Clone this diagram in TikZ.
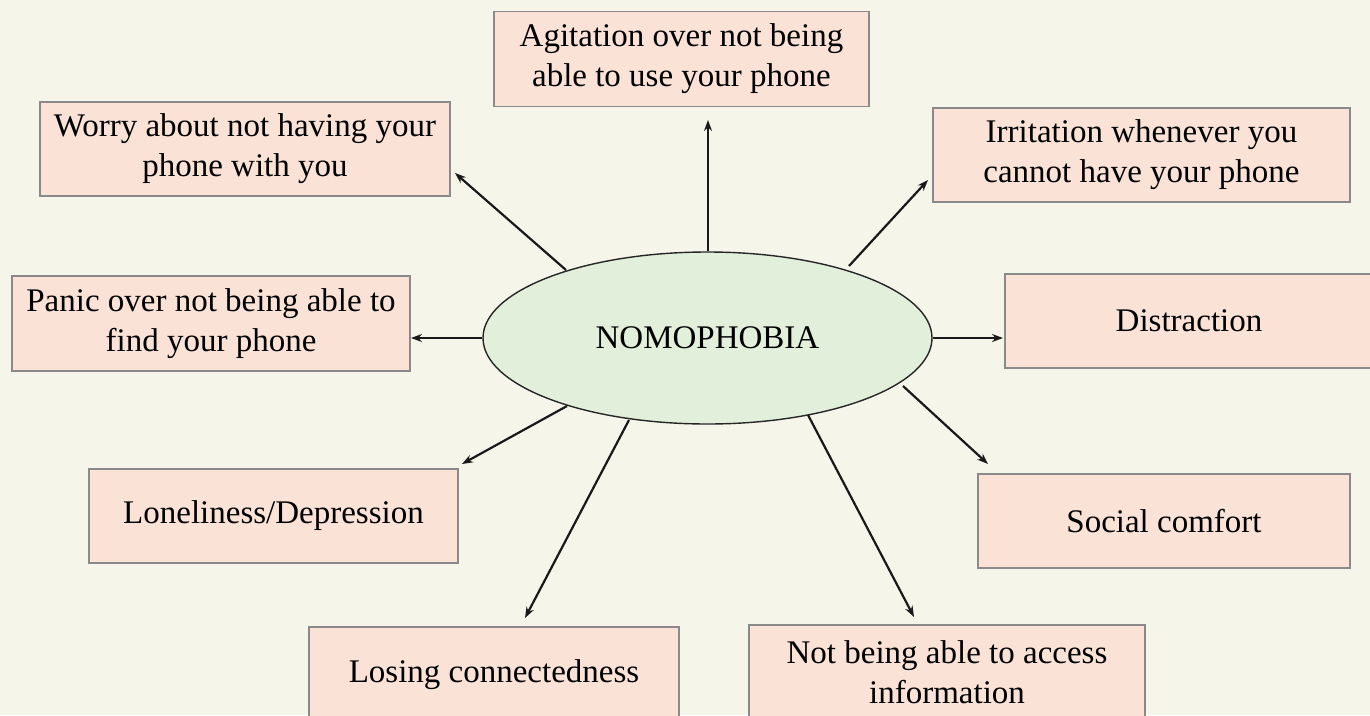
\documentclass[tikz,border=0pt]{standalone}
\usepackage{fontspec}
\setmainfont{Liberation Serif}
\usetikzlibrary{arrows.meta,shapes.geometric}
\definecolor{bg}{HTML}{F5F5EA}
\definecolor{boxfill}{HTML}{FAE2D6}
\definecolor{boxline}{HTML}{8A8A8A}
\definecolor{ellfill}{HTML}{E2EFDA}
\begin{document}
\begin{tikzpicture}[x=1pt,y=-1pt,
  box/.style={draw=boxline,fill=boxfill,line width=1.4pt,align=center,inner sep=0pt,
    font=\fontsize{33}{40}\selectfont},
  arr/.style={-{Stealth[length=11pt,width=8pt]},line width=2.2pt,black!90}]
\useasboundingbox (0,0) rectangle (1370,715);
\fill[bg] (0,0) rectangle (1370,715);
\clip (0,0) rectangle (1370,715);
\node[draw=black!85,fill=ellfill,ellipse,line width=1.4pt,minimum width=449pt,minimum height=172pt,inner sep=0pt,
  font=\fontsize{33}{40}\selectfont] (ell) at (707.5,338) {NOMOPHOBIA};
\node[box,minimum width=375pt,minimum height=95pt] (agit) at (681.5,59) {Agitation over not being\\able to use your phone};
\node[box,minimum width=410pt,minimum height=94pt] (worry) at (245,149) {Worry about not having your\\phone with you};
\node[box,minimum width=417pt,minimum height=94pt] (irrit) at (1141.5,155) {Irritation whenever you\\cannot have your phone};
\node[box,minimum width=398pt,minimum height=95pt] (panic) at (211,323.5) {Panic over not being able to\\find your phone};
\node[box,minimum width=368pt,minimum height=94pt] (distr) at (1189,321) {Distraction};
\node[box,minimum width=369pt,minimum height=94pt] (lonely) at (273.5,516) {Loneliness/Depression};
\node[box,minimum width=372pt,minimum height=94pt] (social) at (1164,521) {Social comfort};
\node[box,minimum width=370pt,minimum height=95pt] (losing) at (494,674.5) {Losing connectedness};
\node[box,minimum width=396pt,minimum height=95pt] (access) at (947,672.5) {Not being able to access\\information};
% redraw box outlines at exact positions (text nodes above are shifted slightly for baseline)
\coordinate (tagit) at (708,120);
\coordinate (tworry) at (455,173);
\coordinate (tirrit) at (928,180);
\coordinate (tpanic) at (411,338);
\coordinate (tdistr) at (1003,338);
\coordinate (tlonely) at (462,464);
\coordinate (tsocial) at (988,464);
\coordinate (tlosing) at (525,618);
\coordinate (taccess) at (914,617);
\draw[arr] (ell.north -| tagit) -- (tagit);
\draw[arr] (566,270) coordinate (sworry) -- (tworry);
\draw[arr] (849,266) coordinate (sirrit) -- (tirrit);
\draw[arr] (ell.west) -- (tpanic);
\draw[arr] (ell.east) -- (tdistr);
\draw[arr] (567,406) coordinate (slonely) -- (tlonely);
\draw[arr] (903,386) coordinate (ssocial) -- (tsocial);
\draw[arr] (629,420) coordinate (slosing) -- (tlosing);
\draw[arr] (808,415) coordinate (saccess) -- (taccess);
\end{tikzpicture}
\end{document}
